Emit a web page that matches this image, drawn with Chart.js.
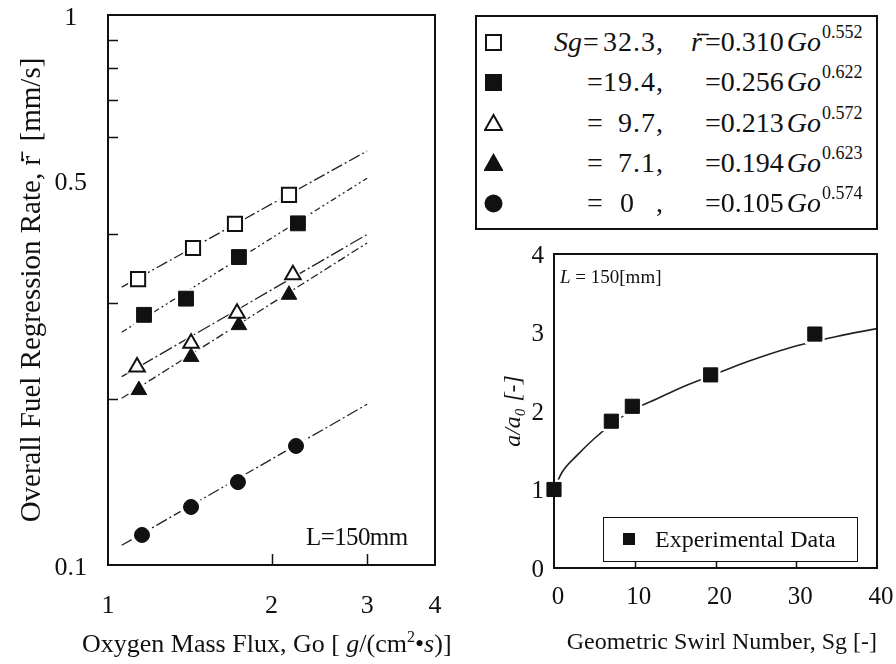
<!DOCTYPE html>
<html><head><meta charset="utf-8">
<script src="https://cdn.jsdelivr.net/npm/chart.js@4.4.1/dist/chart.umd.min.js"></script>
<style>
html,body{margin:0;padding:0;background:#fff;}
#wrap{position:relative;width:896px;height:664px;overflow:hidden;font-family:'Liberation Serif','Times New Roman',serif;color:#111;}
canvas{position:absolute;}
#cL{left:0;top:0;}
#cR{left:450px;top:240px;}
.t{position:absolute;white-space:pre;line-height:1;}
#leg{position:absolute;left:475px;top:15px;width:399px;height:211px;border:2px solid #111;}
#leg2{position:absolute;left:603px;top:517px;width:253px;height:43px;border:1.5px solid #111;background:#fff;}
</style></head>
<body><div id="wrap">
<canvas id="cL" width="450" height="664"></canvas>
<canvas id="cR" width="446" height="424"></canvas>
<div id="leg"></div>
<div id="leg2"></div>
<div class="t" id="lblL" style="left:306px;top:524px;font-size:25px;letter-spacing:-0.6px;">L=150mm</div>
<div class="t" id="lblR" style="left:560px;top:267px;font-size:19px;"><i>L</i> = 150[mm]</div>
<div class="t" id="xtitleL" style="left:82px;top:631px;font-size:26px;">Oxygen Mass Flux, Go [ <i>g</i>/(cm<span style="font-size:16px;position:relative;top:-10px;">2</span>•<i>s</i>)]</div>
</div>
<script>
// ---------- Left chart data (log-log) ----------
const xTicksL = [1, 2, 3, 4];
const yTicksL = [0.1, 0.5, 1];
const xMinorL = [2, 3];
const yMinorL = [0.2, 0.3, 0.4, 0.6, 0.7, 0.8, 0.9];

const sgLabels = ['32.3', '19.4', '9.7', '7.1', '0'];
const coefLabels = ['0.310', '0.256', '0.213', '0.194', '0.105'];
const expLabels = ['0.552', '0.622', '0.572', '0.623', '0.574'];

const go_323 = [1.136, 1.434, 1.713, 2.154];
const r_323  = [0.331, 0.377, 0.417, 0.471];
const go_194 = [1.165, 1.392, 1.742, 2.237];
const r_194  = [0.285, 0.305, 0.363, 0.418];
const go_97  = [1.131, 1.422, 1.728, 2.190];
const r_97   = [0.229, 0.253, 0.287, 0.337];
const go_71  = [1.140, 1.422, 1.742, 2.154];
const r_71   = [0.208, 0.239, 0.273, 0.310];
const go_0   = [1.155, 1.422, 1.735, 2.219];
const r_0    = [0.1134, 0.1275, 0.1415, 0.1646];

// fitted power-law lines, end points
const fitGo   = [1.06, 3.0];
const fit_323 = [0.320, 0.566];
const fit_194 = [0.265, 0.505];
const fit_97  = [0.220, 0.399];
const fit_71  = [0.201, 0.385];
const fit_0   = [0.1086, 0.196];

// ---------- Right chart data ----------
const xTicksR = [0, 10, 20, 30, 40];
const yTicksR = [0, 1, 2, 3, 4];
const xMinorR = [10, 20, 30];
const sgExp  = [0, 7.1, 9.7, 19.4, 32.3];
const aRatio = [1.0, 1.87, 2.06, 2.46, 2.98];
const curveSg = [0, 1, 3, 5, 7, 10, 12, 16, 20, 24, 29, 32, 35, 40];
const curveA  = [1.0, 1.22, 1.45, 1.65, 1.82, 2.03, 2.12, 2.31, 2.47, 2.63, 2.80, 2.88, 2.95, 3.05];

const FONT = "'Liberation Serif', 'Times New Roman', serif";
const INK = '#111';
Chart.defaults.font.family = FONT;
Chart.defaults.color = INK;

const pts = (xs, ys) => xs.map((x, i) => ({x, y: ys[i]}));
const noPad = s => { s.paddingLeft = 0; s.paddingRight = 0; s.paddingTop = 0; s.paddingBottom = 0; };

const framePlugin = {
  id: 'frame',
  afterDraw(chart, args, o) {
    const {ctx, chartArea: a} = chart;
    const xs = chart.scales.x, ys = chart.scales.y;
    ctx.save();
    ctx.strokeStyle = INK;
    ctx.lineWidth = o.width;
    ctx.strokeRect(a.left, a.top, a.right - a.left, a.bottom - a.top);
    ctx.lineWidth = o.tickWidth;
    ctx.beginPath();
    (o.xTicks || []).forEach(v => {
      const p = Math.round(xs.getPixelForValue(v)) + 0.5;
      ctx.moveTo(p, a.bottom); ctx.lineTo(p, a.bottom - o.xLen);
    });
    (o.yTicks || []).forEach(v => {
      const p = Math.round(ys.getPixelForValue(v)) + 0.5;
      ctx.moveTo(a.left, p); ctx.lineTo(a.left + o.yLen, p);
    });
    ctx.stroke();
    ctx.restore();
  }
};

function markerSet(data, style, filled, r) {
  return {
    data, showLine: false, clip: false,
    pointStyle: style, pointRadius: r,
    pointBackgroundColor: filled ? INK : '#fff',
    pointBorderColor: INK, pointBorderWidth: filled ? 1 : 2
  };
}
function haloSet(data, style, r) {
  return {
    data, showLine: false, clip: false,
    pointStyle: style, pointRadius: r,
    pointBackgroundColor: '#fff', pointBorderColor: '#fff', pointBorderWidth: 0
  };
}
function lineSet(data, dash) {
  return {
    data, showLine: true, pointRadius: 0, borderColor: '#222',
    borderWidth: 1.3, borderDash: dash, fill: false
  };
}

const series = [
  {go: go_323, r: r_323, fit: fit_323, style: 'rect', filled: false, rad: 10, dash: [12, 3, 2, 3]},
  {go: go_194, r: r_194, fit: fit_194, style: 'rect', filled: true, rad: 10.5, dash: [6, 3, 2, 3, 2, 3]},
  {go: go_97, r: r_97, fit: fit_97, style: 'triangle', filled: false, rad: 9, dash: [14, 3, 2, 3]},
  {go: go_71, r: r_71, fit: fit_71, style: 'triangle', filled: true, rad: 9, dash: [8, 3, 2, 3]},
  {go: go_0, r: r_0, fit: fit_0, style: 'circle', filled: true, rad: 7.5, dash: [12, 3, 2, 3]}
];

const dsL = [];
series.forEach(s => dsL.push(markerSet(pts(s.go, s.r), s.style, s.filled, s.rad)));
series.forEach(s => dsL.push(haloSet(pts(s.go, s.r), s.style, s.rad + 4)));
series.forEach(s => dsL.push(lineSet(pts(fitGo, s.fit), s.dash)));

new Chart(document.getElementById('cL'), {
  type: 'scatter',
  data: {datasets: dsL},
  options: {
    responsive: false, animation: false, devicePixelRatio: 1, events: [],
    layout: {padding: {top: 15, right: 15, left: 0, bottom: 0}},
    plugins: {
      legend: {display: false}, tooltip: {enabled: false},
      frame: {width: 2, tickWidth: 1.5, xTicks: xMinorL, yTicks: yMinorL, xLen: 11, yLen: 10}
    },
    scales: {
      x: {
        type: 'logarithmic', min: 1, max: 4, position: 'bottom',
        afterBuildTicks: s => { s.ticks = xTicksL.map(v => ({value: v})); },
        afterFit: s => { s.height = 99; noPad(s); },
        grid: {display: false, drawTicks: false}, border: {display: false},
        ticks: {font: {size: 26}, color: INK, padding: 26, autoSkip: false, maxRotation: 0, callback: v => String(v)},
        title: {display: false}
      },
      y: {
        type: 'logarithmic', min: 0.1, max: 1, position: 'left',
        afterBuildTicks: s => { s.ticks = yTicksL.map(v => ({value: v})); },
        afterFit: s => { s.width = 108; noPad(s); },
        grid: {display: false, drawTicks: false}, border: {display: false},
        ticks: {font: {size: 26}, color: INK, padding: 21, labelOffset: 3, crossAlign: 'center', autoSkip: false, callback: v => String(v)},
        title: {display: true, text: 'Overall Fuel Regression Rate, r\u0307\u0304  [mm/s]', font: {size: 29}, color: INK, padding: {top: 15, bottom: 0}}
      }
    }
  },
  plugins: [framePlugin]
});

const expPts = pts(sgExp, aRatio);
new Chart(document.getElementById('cR'), {
  type: 'scatter',
  data: {datasets: [
    markerSet(expPts, 'rect', true, 10),
    haloSet(expPts, 'rect', 14),
    {data: pts(curveSg, curveA), showLine: true, pointRadius: 0, borderColor: '#222', borderWidth: 1.6, cubicInterpolationMode: 'monotone', fill: false}
  ]},
  options: {
    responsive: false, animation: false, devicePixelRatio: 1, events: [],
    layout: {padding: {top: 13, right: 19, left: 0, bottom: 0}},
    plugins: {
      legend: {display: false}, tooltip: {enabled: false},
      frame: {width: 2, tickWidth: 1.5, xTicks: xMinorR, yTicks: [], xLen: 6, yLen: 0}
    },
    scales: {
      x: {
        type: 'linear', min: 0, max: 40, position: 'bottom',
        afterBuildTicks: s => { s.ticks = xTicksR.map(v => ({value: v})); },
        afterFit: s => { s.height = 96; noPad(s); },
        grid: {display: false, drawTicks: false}, border: {display: false},
        ticks: {font: {size: 25}, color: INK, padding: 14, labelOffset: 4, autoSkip: false, maxRotation: 0},
        title: {display: true, align: 'end', text: 'Geometric Swirl Number, Sg [-]', font: {size: 24}, color: INK, padding: {top: 0, bottom: 7}}
      },
      y: {
        type: 'linear', min: 0, max: 4, position: 'left',
        afterBuildTicks: s => { s.ticks = yTicksR.map(v => ({value: v})); },
        afterFit: s => { s.width = 104; noPad(s); },
        grid: {display: false, drawTicks: false}, border: {display: false},
        ticks: {font: {size: 25}, color: INK, padding: 10, labelOffset: 2, crossAlign: 'center', autoSkip: false},
        title: {display: true, text: 'a/a\u2080 [-]', font: {size: 24, style: 'italic'}, color: INK, padding: {top: 49, bottom: 0}}
      }
    }
  },
  plugins: [framePlugin]
});

// ---------- HTML legend (top right) ----------
function markerSVG(style, filled) {
  const f = filled ? INK : '#fff';
  let shape = '';
  if (style === 'rect') shape = `<rect x="2" y="2" width="15" height="15" fill="${f}" stroke="${INK}" stroke-width="2"/>`;
  if (style === 'triangle') shape = `<polygon points="9.5,2 18,17 1,17" fill="${f}" stroke="${INK}" stroke-width="2"/>`;
  if (style === 'circle') shape = `<circle cx="9.5" cy="9.5" r="9" fill="${f}"/>`;
  return `<svg width="19" height="19" viewBox="0 0 19 19" style="position:absolute">${shape}</svg>`;
}
const wrap = document.getElementById('wrap');
function addText(html, left, cy, size, extra) {
  const d = document.createElement('div');
  d.className = 't';
  d.style.cssText = `left:${left}px;top:${cy - size * 0.5}px;font-size:${size}px;` + (extra || '');
  d.innerHTML = html;
  wrap.appendChild(d);
  return d;
}
const LF = 28;
series.forEach((s, i) => {
  const cy = 42 + i * 40.3;
  const m = document.createElement('div');
  m.style.cssText = `position:absolute;left:484px;top:${cy - 9.5}px;width:19px;height:19px;`;
  m.innerHTML = markerSVG(s.style, s.filled);
  wrap.appendChild(m);
  if (i === 0) addText('<i>Sg</i>', 530, cy, LF, 'width:52px;text-align:right;');
  addText('=', i === 0 ? 583 : 587, cy, LF);
  addText(sgLabels[i], 594, cy, LF, `width:${i === 4 ? 41 : 62}px;text-align:right;letter-spacing:1px;`);
  addText(',', 656, cy, LF);
  if (i === 0) addText('<i>r\u0307\u0304</i>', 691, cy, LF);
  addText('=' + coefLabels[i] + '<i style="margin-left:3px;">Go</i><span style="font-size:18px;position:relative;top:-13px;margin-left:1px;">' + expLabels[i] + '</span>', 705, cy, LF);
});
// right legend
const l2 = document.getElementById('leg2');
l2.innerHTML = `<div style="position:absolute;left:19px;top:15px;width:12px;height:12px;background:${INK}"></div>` +
  `<div class="t" style="left:51px;top:9px;font-size:24px;">Experimental Data</div>`;
</script>
</body></html>
